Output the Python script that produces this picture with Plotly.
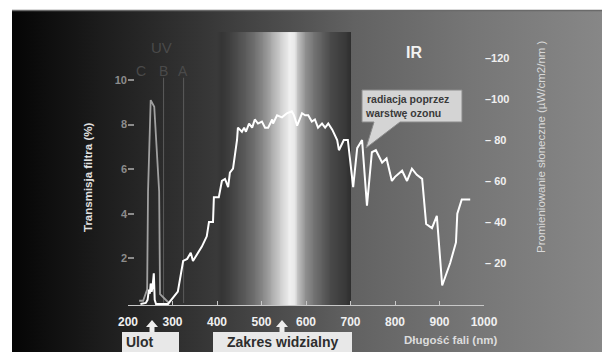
import base64
import numpy as np
import plotly.graph_objects as go

# ---------------- data ----------------
# Solar irradiance (µW/cm2/nm) vs wavelength (nm)
solar_nm = [228, 240, 244, 247, 249, 251, 253, 255, 258, 260, 263, 285, 290,
            312, 324, 333, 341, 346, 366, 377, 382, 391, 393, 404, 411, 418, 425,
            429, 436, 445, 447, 456, 461, 465, 472, 479, 485, 492, 501, 508, 515,
            524, 526, 535, 546, 557, 568, 573, 580, 591, 598, 605, 613, 620, 627,
            636, 643, 650, 659, 670, 674, 685, 694, 706, 715, 726, 737, 748, 757,
            771, 781, 793, 800, 816, 827, 838, 849, 861, 870, 883, 894, 906, 924,
            937, 940, 950, 969]
solar_val = [0, 0.5, 2, 7, 5, 10, 6, 8, 15, 2, 0, 0, 0,
             6, 21, 22, 25, 21, 28, 33, 40, 40, 52, 52, 60, 61, 57,
             64, 66, 80, 86, 84, 86, 84, 88, 86, 90, 88, 89, 86, 86,
             90, 88, 92, 91, 93, 94, 92, 87, 93, 92, 92, 89, 90, 86,
             88, 86, 88, 85, 80, 75, 80, 80, 57, 76, 80, 48, 74, 75,
             69, 71, 60, 62, 65, 60, 66, 63, 61, 39, 37, 43, 9, 20,
             30, 44, 51, 51]

# Filter transmission (%) vs wavelength (nm)
filter_nm = [225, 234, 243, 245, 251, 259, 270, 272, 292]
filter_val = [0.1, 0.1, 0.6, 5, 9.1, 8.8, 5, 0.4, 0]

# UV sub-band boundaries (nm)
uv_bounds = [280, 325]

# Visible band extent (nm)
visible_range = [400, 700]

x_ticks = [200, 300, 400, 500, 600, 700, 800, 900, 1000]
left_ticks = [2, 4, 6, 8, 10]
right_ticks = [20, 40, 60, 80, 100, 120]
right_tick_text = ["\u2013 20", "\u2013 40", "\u2013 60", "\u2013 80", "\u2013100", "\u2013120"]

# ---------------- geometry helpers (pixel -> paper) ----------------
L, R, T, B = 128, 484, 20, 305
W, H = 602, 352


def px(x):
    return (x - L) / (R - L)


def py(y):
    return (B - y) / (B - T)


fig = go.Figure()

# Visible-band gradient as heatmap
band_edges = np.arange(visible_range[0], visible_range[1] + 0.1, 2.0)
band_centers = (band_edges[:-1] + band_edges[1:]) / 2
bx = [400, 410, 430, 463, 485, 508, 530, 548, 564, 573, 582, 598, 620, 654, 688, 700]
bb = [58, 52, 64, 90, 112, 144, 184, 216, 240, 232, 192, 144, 112, 74, 56, 46]
band_z = np.interp(band_centers, bx, bb)
fig.add_trace(go.Heatmap(
    x=band_edges, y=[-0.09, 12.15], z=[band_z],
    colorscale=[[0, "rgb(0,0,0)"], [1, "rgb(255,255,255)"]],
    zmin=0, zmax=255, showscale=False, hoverinfo="skip"))

# Filter transmission
fig.add_trace(go.Scatter(x=filter_nm, y=filter_val, mode="lines",
                         line=dict(color="#a0a0a0", width=1.8), hoverinfo="skip"))
# Solar spectrum
fig.add_trace(go.Scatter(x=solar_nm, y=solar_val, yaxis="y2", mode="lines",
                         line=dict(color="#ffffff", width=2), hoverinfo="skip"))

# Background gradient image (SVG data URI)
bg_w, bg_h = W - 12, H - 10
stops = [(0.0, "#050505"), (0.15, "#1c1c1c"), (0.32, "#353535"),
         (0.58, "#626262"), (0.78, "#767676"), (1.0, "#878787")]
stop_xml = "".join(f'<stop offset="{o}" stop-color="{c}"/>' for o, c in stops)
svg = (f'<svg xmlns="http://www.w3.org/2000/svg" width="{bg_w}" height="{bg_h}" '
       f'preserveAspectRatio="none"><defs><linearGradient id="g" x1="0" x2="1" y1="0" y2="0">'
       f'{stop_xml}</linearGradient></defs><rect width="{bg_w}" height="{bg_h}" fill="url(#g)"/></svg>')
uri = "data:image/svg+xml;base64," + base64.b64encode(svg.encode()).decode()
fig.add_layout_image(dict(source=uri, xref="paper", yref="paper",
                          x=px(12), y=py(10), sizex=bg_w / (R - L), sizey=bg_h / (B - T),
                          xanchor="left", yanchor="top", sizing="stretch", layer="below"))

shapes = []
# top border line
shapes.append(dict(type="line", xref="paper", yref="paper", x0=px(12), x1=px(W),
                   y0=py(10.5), y1=py(10.5), line=dict(color="#6a6a6a", width=1.5)))
# UV boundary lines
for b in uv_bounds:
    shapes.append(dict(type="line", xref="x", yref="y", x0=b, x1=b, y0=0, y1=10.1,
                       line=dict(color="#5c5c5c", width=1), layer="below"))

# callout box with pointer
bx0, bx1, by0, by1 = 362, 462, 90, 122
path = (f"M {px(bx0)} {py(by0)} L {px(bx1)} {py(by0)} L {px(bx1)} {py(by1)} "
        f"L {px(400)} {py(by1)} L {px(366)} {py(148)} L {px(374)} {py(by1)} "
        f"L {px(bx0)} {py(by1)} Z")
shapes.append(dict(type="path", xref="paper", yref="paper", path=path,
                   fillcolor="#d4d4d4", line=dict(color="#8a8a8a", width=1)))

# bottom label boxes
for x0, x1 in [(122, 179), (213, 352)]:
    shapes.append(dict(type="rect", xref="paper", yref="paper",
                       x0=px(x0), x1=px(x1), y0=py(353), y1=py(332),
                       fillcolor="#e8e8e8", line=dict(width=0)))
# up arrows
for ax in [152, 282]:
    arr = (f"M {px(ax)} {py(320)} L {px(ax+6)} {py(327)} L {px(ax+2.5)} {py(327)} "
           f"L {px(ax+2.5)} {py(332)} L {px(ax-2.5)} {py(332)} L {px(ax-2.5)} {py(327)} "
           f"L {px(ax-6)} {py(327)} Z")
    shapes.append(dict(type="path", xref="paper", yref="paper", path=arr,
                       fillcolor="#eeeeee", line=dict(width=0)))

FONT = "Liberation Sans, Arial, sans-serif"
ann = []


def text(x, y, s, size, color, bold=True, xanchor="center", angle=0, yanchor="middle"):
    ann.append(dict(x=px(x), y=py(y), xref="paper", yref="paper", text=s, showarrow=False,
                    xanchor=xanchor, yanchor=yanchor, textangle=angle,
                    font=dict(family=FONT, size=size, color=color,
                              weight="bold" if bold else "normal")))


text(161, 48, "UV", 15, "#4a4a4a", bold=False)
text(141, 71, "C", 14, "#4a4a4a", bold=False)
text(163, 71, "B", 14, "#4a4a4a", bold=False)
text(183, 71, "A", 14, "#4a4a4a", bold=False)
text(414, 52, "IR", 16, "#f2f2f2")
text(365, 99, "radiacja poprzez", 10.5, "#3a3a3a", xanchor="left")
text(363, 113, "warstwę ozonu", 10.5, "#3a3a3a", xanchor="left")
text(124, 342, "Ulot", 14, "#2e2e2e", xanchor="left")
text(282, 342, "Zakres widzialny", 14, "#2e2e2e")
text(450, 340, "Długość fali (nm)", 11.5, "#dcdcdc")
text(88, 178, "Transmisja filtra (%)", 11.5, "#e0e0e0", angle=-90)
text(541, 147, "Promieniowanie słoneczne (µW/cm2/nm )", 11.5, "#d8d8d8", bold=False, angle=-90)

fig.update_layout(
    width=W, height=H,
    margin=dict(l=L, r=W - R, t=T, b=H - B, pad=0),
    paper_bgcolor="#ffffff", plot_bgcolor="rgba(0,0,0,0)",
    showlegend=False,
    shapes=shapes, annotations=ann,
    xaxis=dict(range=[200, 1000], tickvals=x_ticks, ticks="inside", ticklen=4,
               tickcolor="#c8c8c8", showline=True, linecolor="#c8c8c8", linewidth=1,
               showgrid=False, zeroline=False, ticklabelstandoff=6,
               tickfont=dict(family=FONT, size=12, color="#f0f0f0", weight="bold")),
    yaxis=dict(range=[-0.09, 12.69], tickvals=left_ticks, ticks="inside", ticklen=6,
               tickwidth=1.5, tickcolor="#8c8c8c", showgrid=False, zeroline=False,
               showline=False,
               tickfont=dict(family=FONT, size=11, color="#8c8c8c", weight="bold")),
    yaxis2=dict(range=[-0.5, 138.5], overlaying="y", side="right", tickvals=right_ticks,
                ticktext=right_tick_text, ticks="", showgrid=False, zeroline=False,
                showline=False,
                tickfont=dict(family=FONT, size=11, color="#efefef", weight="bold")),
)

fig.write_html("out.html", config={"displayModeBar": False},
               post_script="document.body.style.margin='0px';document.body.style.overflow='hidden';")
